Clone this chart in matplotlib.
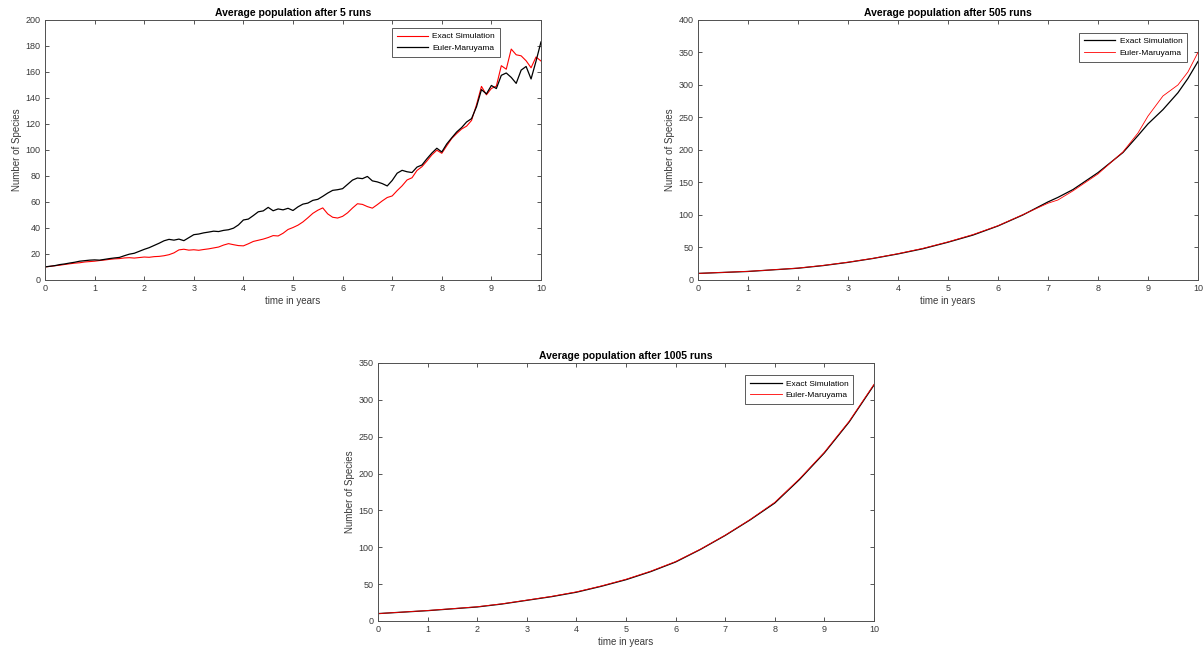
import numpy as np
import matplotlib
matplotlib.use("Agg")
import matplotlib.pyplot as plt

# --- averaged trajectories, 5 runs (sampled every 0.1 years) ---
t_5 = np.round(np.arange(0, 10.01, 0.1), 1)
exact_5 = [10.0, 10.4, 10.9, 11.3, 11.9, 12.4, 12.9, 13.2, 13.8, 14.1,
           14.4, 14.9, 15.3, 15.8, 16.2, 16.4, 16.9, 17.1, 16.8, 17.2,
           17.6, 17.4, 17.9, 18.1, 18.6, 19.4, 20.8, 23.1, 23.6, 22.9,
           23.2, 22.8, 23.4, 23.9, 24.6, 25.3, 26.8, 27.9, 27.1, 26.4,
           26.2, 27.8, 29.6, 30.5, 31.4, 32.6, 34.1, 33.8, 35.9, 38.8,
           40.3, 42.1, 44.6, 47.8, 51.2, 53.6, 55.4, 50.8, 48.2, 47.6,
           48.9, 51.6, 55.3, 58.6, 58.1, 56.4, 55.2, 57.9, 60.8, 63.4,
           64.6, 68.7, 72.4, 76.9, 78.6, 84.2, 87.1, 91.5, 96.2, 99.8,
           97.4, 103.2, 108.8, 112.6, 116.1, 118.3, 122.7, 134.8, 148.9, 142.4,
           147.3, 149.1, 164.8, 162.1, 177.6, 173.2, 172.4, 168.6, 163.2, 171.5,
           168.4]
euler_5 = [10.0, 10.5, 11.0, 11.8, 12.3, 13.0, 13.6, 14.4, 14.8, 15.2,
           15.4, 15.2, 15.8, 16.4, 16.9, 17.3, 18.6, 19.8, 20.5, 22.0,
           23.5, 24.8, 26.5, 28.2, 30.1, 31.2, 30.6, 31.4, 30.2, 32.5,
           34.8, 35.3, 36.2, 36.8, 37.5, 37.2, 38.1, 38.6, 39.8, 42.3,
           46.1, 46.8, 49.5, 52.4, 53.1, 55.8, 53.2, 54.6, 53.9, 55.1,
           53.4, 56.2, 58.3, 59.1, 61.2, 62.0, 64.3, 66.8, 68.9, 69.4,
           70.2, 73.5, 76.8, 78.4, 77.9, 79.6, 76.2, 75.4, 74.1, 72.3,
           76.5, 82.1, 84.3, 83.2, 82.6, 86.8, 88.4, 93.2, 97.6, 101.3,
           98.4, 104.6, 109.3, 113.8, 117.2, 121.5, 124.1, 133.2, 146.4, 143.1,
           149.6, 147.2, 157.4, 159.2, 155.8, 151.2, 161.4, 164.2, 154.6, 168.3,
           183.1]

# --- 505 runs ---
t_505 = [0, 0.5, 1, 1.5, 2, 2.5, 3, 3.5, 4, 4.5, 5, 5.5, 6, 6.5, 7, 7.2,
         7.5, 8, 8.5, 8.8, 9, 9.3, 9.6, 9.8, 10]
exact_505 = [10, 11.5, 13, 15.5, 18, 22, 27, 33, 40, 48, 58, 69, 83, 100,
             120, 127, 139, 165, 196, 222, 240, 262, 288, 310, 336]
euler_505 = [10, 11.6, 13.2, 15.6, 18.2, 22.3, 27.3, 33.2, 40.4, 48.6, 58.5,
             69.8, 83.4, 100.5, 118, 123, 137, 163, 197, 226, 252, 283, 300,
             320, 350]

# --- 1005 runs ---
t_1005 = [0, 0.5, 1, 1.5, 2, 2.5, 3, 3.5, 4, 4.5, 5, 5.5, 6, 6.5, 7, 7.5,
          8, 8.5, 9, 9.5, 10]
exact_1005 = [10, 12, 14, 16.5, 19, 23, 28, 33, 39, 47, 56, 67, 80, 97, 116,
              137, 160, 192, 228, 270, 320]
euler_1005 = [10, 12.1, 14.2, 16.7, 19.3, 23.3, 28.3, 33.4, 39.5, 47.5, 56.6,
              67.6, 80.6, 97.4, 116.4, 137.5, 161, 193, 229, 271, 321]

panels = [
    ("Average population after 5 runs", t_5, exact_5, euler_5, 200, 20, "r", "k"),
    ("Average population after 505 runs", t_505, exact_505, euler_505, 400, 50, "k", "r"),
    ("Average population after 1005 runs", t_1005, exact_1005, euler_1005, 350, 50, "k", "r"),
]

axes_rects = [
    [0.0374, 0.572, 0.4123, 0.3975],
    [0.5802, 0.572, 0.4156, 0.3975],
    [0.3142, 0.0505, 0.4123, 0.3945],
]
# upper-right corner of each legend box, in axes coordinates
legend_anchor = [(0.917, 0.969), (0.978, 0.95), (0.958, 0.953)]
# red is drawn thinner on the smooth panels
red_width = [0.8, 0.6, 0.6]

plt.rcParams["font.family"] = ["Liberation Sans", "DejaVu Sans"]

fig = plt.figure(figsize=(12.03, 6.54), dpi=100)
axis_grey = "#3a3a3a"

for (title, t, ex, eu, ymax, ystep, c_ex, c_eu), rect, anchor, rw in zip(
        panels, axes_rects, legend_anchor, red_width):
    ax = fig.add_axes(rect)
    ax.plot(t, ex, color=c_ex, lw=rw if c_ex == "r" else 0.9, label="Exact Simulation")
    ax.plot(t, eu, color=c_eu, lw=rw if c_eu == "r" else 0.9, label="Euler-Maruyama")
    ax.set_xlim(0, 10)
    ax.set_ylim(0, ymax)
    ax.set_xticks(range(0, 11))
    ax.set_yticks(range(0, ymax + 1, ystep))
    ax.tick_params(direction="in", top=True, right=True, length=3, width=0.6,
                   labelsize=6.5, colors=axis_grey, pad=3)
    for sp in ax.spines.values():
        sp.set_color("#505050")
        sp.set_linewidth(0.7)
    ax.set_title(title, fontsize=7.5, fontweight="bold", pad=3)
    ax.set_xlabel("time in years", fontsize=7, color=axis_grey, labelpad=2)
    ax.set_ylabel("Number of Species", fontsize=7, color=axis_grey, labelpad=3)
    leg = ax.legend(loc="upper right", bbox_to_anchor=anchor, fontsize=6,
                    fancybox=False, framealpha=1, edgecolor="#404040",
                    handlelength=3.8, handletextpad=0.5, borderpad=0.55,
                    labelspacing=0.45, borderaxespad=0.0)
    leg.get_frame().set_linewidth(0.6)

fig.savefig("out.png", dpi=100)
